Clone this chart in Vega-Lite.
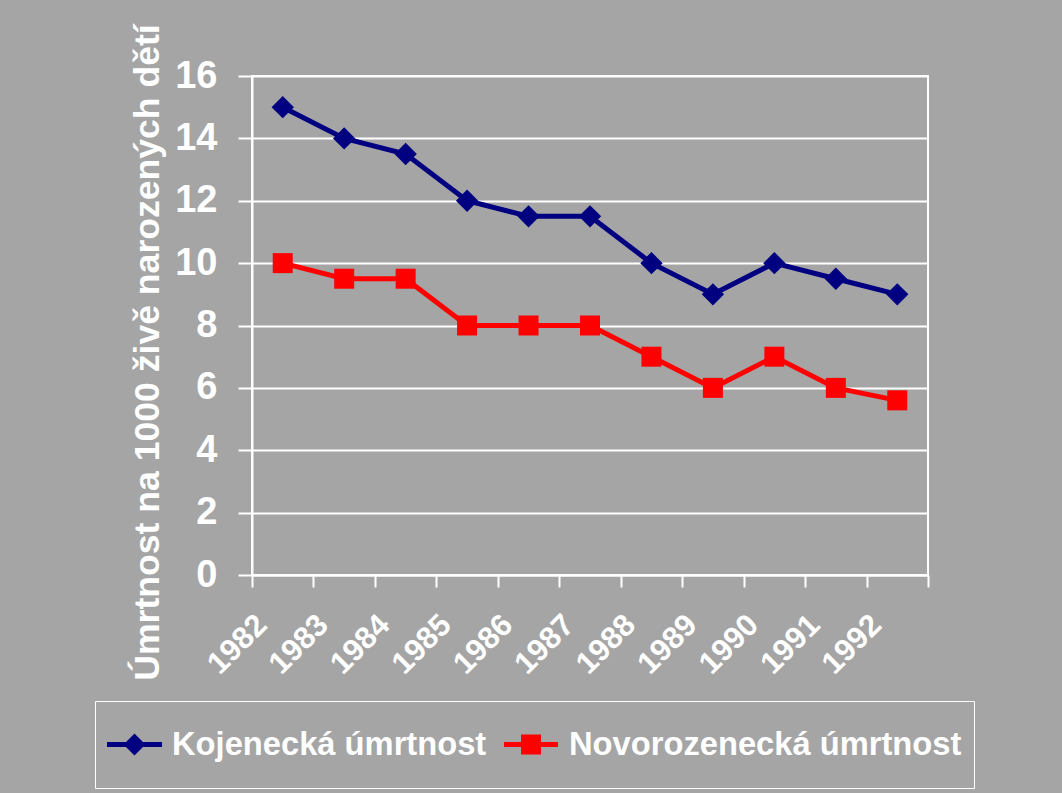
{
  "$schema": "https://vega.github.io/schema/vega-lite/v6.json",
  "autosize": {"type": "none"},
  "width": 676,
  "height": 499,
  "padding": {"left": 252, "top": 76, "right": 134, "bottom": 218},
  "background": "#A5A5A5",
  "config": {
    "font": "Liberation Sans",
    "view": {"stroke": "white", "strokeWidth": 2, "fill": null},
    "legend": {
      "orient": "none",
      "legendX": -157,
      "legendY": 625,
      "direction": "horizontal",
      "strokeColor": "white",
      "padding": 12,
      "symbolSize": 3969,
      "symbolStrokeWidth": 0,
      "symbolOpacity": 1,
      "labelFontSize": 32.7,
      "labelFontWeight": "bold",
      "labelColor": "white",
      "labelLimit": 600,
      "labelOffset": 2,
      "columnPadding": 17
    }
  },
  "data": {
    "values": [
      {"rok": "1982", "rada": "Kojenecká úmrtnost", "hodnota": 15},
      {"rok": "1983", "rada": "Kojenecká úmrtnost", "hodnota": 14},
      {"rok": "1984", "rada": "Kojenecká úmrtnost", "hodnota": 13.5},
      {"rok": "1985", "rada": "Kojenecká úmrtnost", "hodnota": 12},
      {"rok": "1986", "rada": "Kojenecká úmrtnost", "hodnota": 11.5},
      {"rok": "1987", "rada": "Kojenecká úmrtnost", "hodnota": 11.5},
      {"rok": "1988", "rada": "Kojenecká úmrtnost", "hodnota": 10},
      {"rok": "1989", "rada": "Kojenecká úmrtnost", "hodnota": 9},
      {"rok": "1990", "rada": "Kojenecká úmrtnost", "hodnota": 10},
      {"rok": "1991", "rada": "Kojenecká úmrtnost", "hodnota": 9.5},
      {"rok": "1992", "rada": "Kojenecká úmrtnost", "hodnota": 9},
      {"rok": "1982", "rada": "Novorozenecká úmrtnost", "hodnota": 10},
      {"rok": "1983", "rada": "Novorozenecká úmrtnost", "hodnota": 9.5},
      {"rok": "1984", "rada": "Novorozenecká úmrtnost", "hodnota": 9.5},
      {"rok": "1985", "rada": "Novorozenecká úmrtnost", "hodnota": 8},
      {"rok": "1986", "rada": "Novorozenecká úmrtnost", "hodnota": 8},
      {"rok": "1987", "rada": "Novorozenecká úmrtnost", "hodnota": 8},
      {"rok": "1988", "rada": "Novorozenecká úmrtnost", "hodnota": 7},
      {"rok": "1989", "rada": "Novorozenecká úmrtnost", "hodnota": 6},
      {"rok": "1990", "rada": "Novorozenecká úmrtnost", "hodnota": 7},
      {"rok": "1991", "rada": "Novorozenecká úmrtnost", "hodnota": 6},
      {"rok": "1992", "rada": "Novorozenecká úmrtnost", "hodnota": 5.6}
    ]
  },
  "encoding": {
    "x": {
      "field": "rok",
      "type": "ordinal",
      "scale": {"type": "band", "paddingInner": 0, "paddingOuter": 0},
      "axis": {
        "title": null,
        "domainColor": "white",
        "domainWidth": 2,
        "tickColor": "white",
        "tickWidth": 2,
        "tickSize": 12,
        "tickBand": "extent",
        "grid": false,
        "labelAngle": -45,
        "labelAlign": "right",
        "labelBaseline": "middle",
        "labelOffset": -21,
        "labelPadding": 33,
        "labelFontSize": 31,
        "labelFontWeight": "bold",
        "labelColor": "white"
      }
    },
    "y": {
      "field": "hodnota",
      "type": "quantitative",
      "scale": {"domain": [0, 16], "nice": false, "zero": true},
      "axis": {
        "values": [0, 2, 4, 6, 8, 10, 12, 14, 16],
        "title": "Úmrtnost na 1000 živě narozených dětí",
        "titleFontSize": 35.6,
        "titleFontWeight": "bold",
        "titleColor": "white",
        "titleAngle": -90,
        "titleAlign": "center",
        "titleBaseline": "alphabetic",
        "titleX": -94,
        "titleY": 276,
        "domainColor": "white",
        "domainWidth": 2,
        "tickColor": "white",
        "tickWidth": 2,
        "tickSize": 14,
        "grid": true,
        "gridColor": "white",
        "gridWidth": 2,
        "gridOpacity": 1,
        "labelPadding": 21,
        "labelFontSize": 38,
        "labelFontWeight": "bold",
        "labelColor": "white"
      }
    },
    "color": {
      "field": "rada",
      "type": "nominal",
      "scale": {"domain": ["Kojenecká úmrtnost", "Novorozenecká úmrtnost"], "range": ["#000080", "#FF0000"]},
      "legend": {"title": null}
    }
  },
  "layer": [
    {
      "mark": {"type": "line", "strokeWidth": 5}
    },
    {
      "transform": [{"filter": "datum.rada === 'Kojenecká úmrtnost'"}],
      "mark": {"type": "point", "filled": true, "opacity": 1, "strokeWidth": 0, "shape": "diamond", "size": 500}
    },
    {
      "transform": [{"filter": "datum.rada === 'Novorozenecká úmrtnost'"}],
      "mark": {"type": "point", "filled": true, "opacity": 1, "strokeWidth": 0, "shape": "square", "size": 400}
    },
    {
      "transform": [{"filter": "false"}],
      "mark": {"type": "point", "filled": true, "opacity": 1, "strokeWidth": 0},
      "encoding": {
        "shape": {
          "field": "rada",
          "type": "nominal",
          "scale": {"domain": ["Kojenecká úmrtnost", "Novorozenecká úmrtnost"], "range": ["M-1,-1L-1,1Z M-1,-0.08H0.746V0.08H-1Z M-0.476,0L-0.127,-0.349L0.222,0L-0.127,0.349Z", "M-1,-1L-1,1Z M-1,-0.08H0.714V0.08H-1Z M-0.46,-0.317H0.175V0.317H-0.46Z"]},
          "legend": {"title": null}
        },
        "size": {
          "field": "rada",
          "type": "nominal",
          "scale": {"domain": ["Kojenecká úmrtnost", "Novorozenecká úmrtnost"], "range": [3969, 3969]},
          "legend": {"title": null}
        }
      }
    }
  ]
}
